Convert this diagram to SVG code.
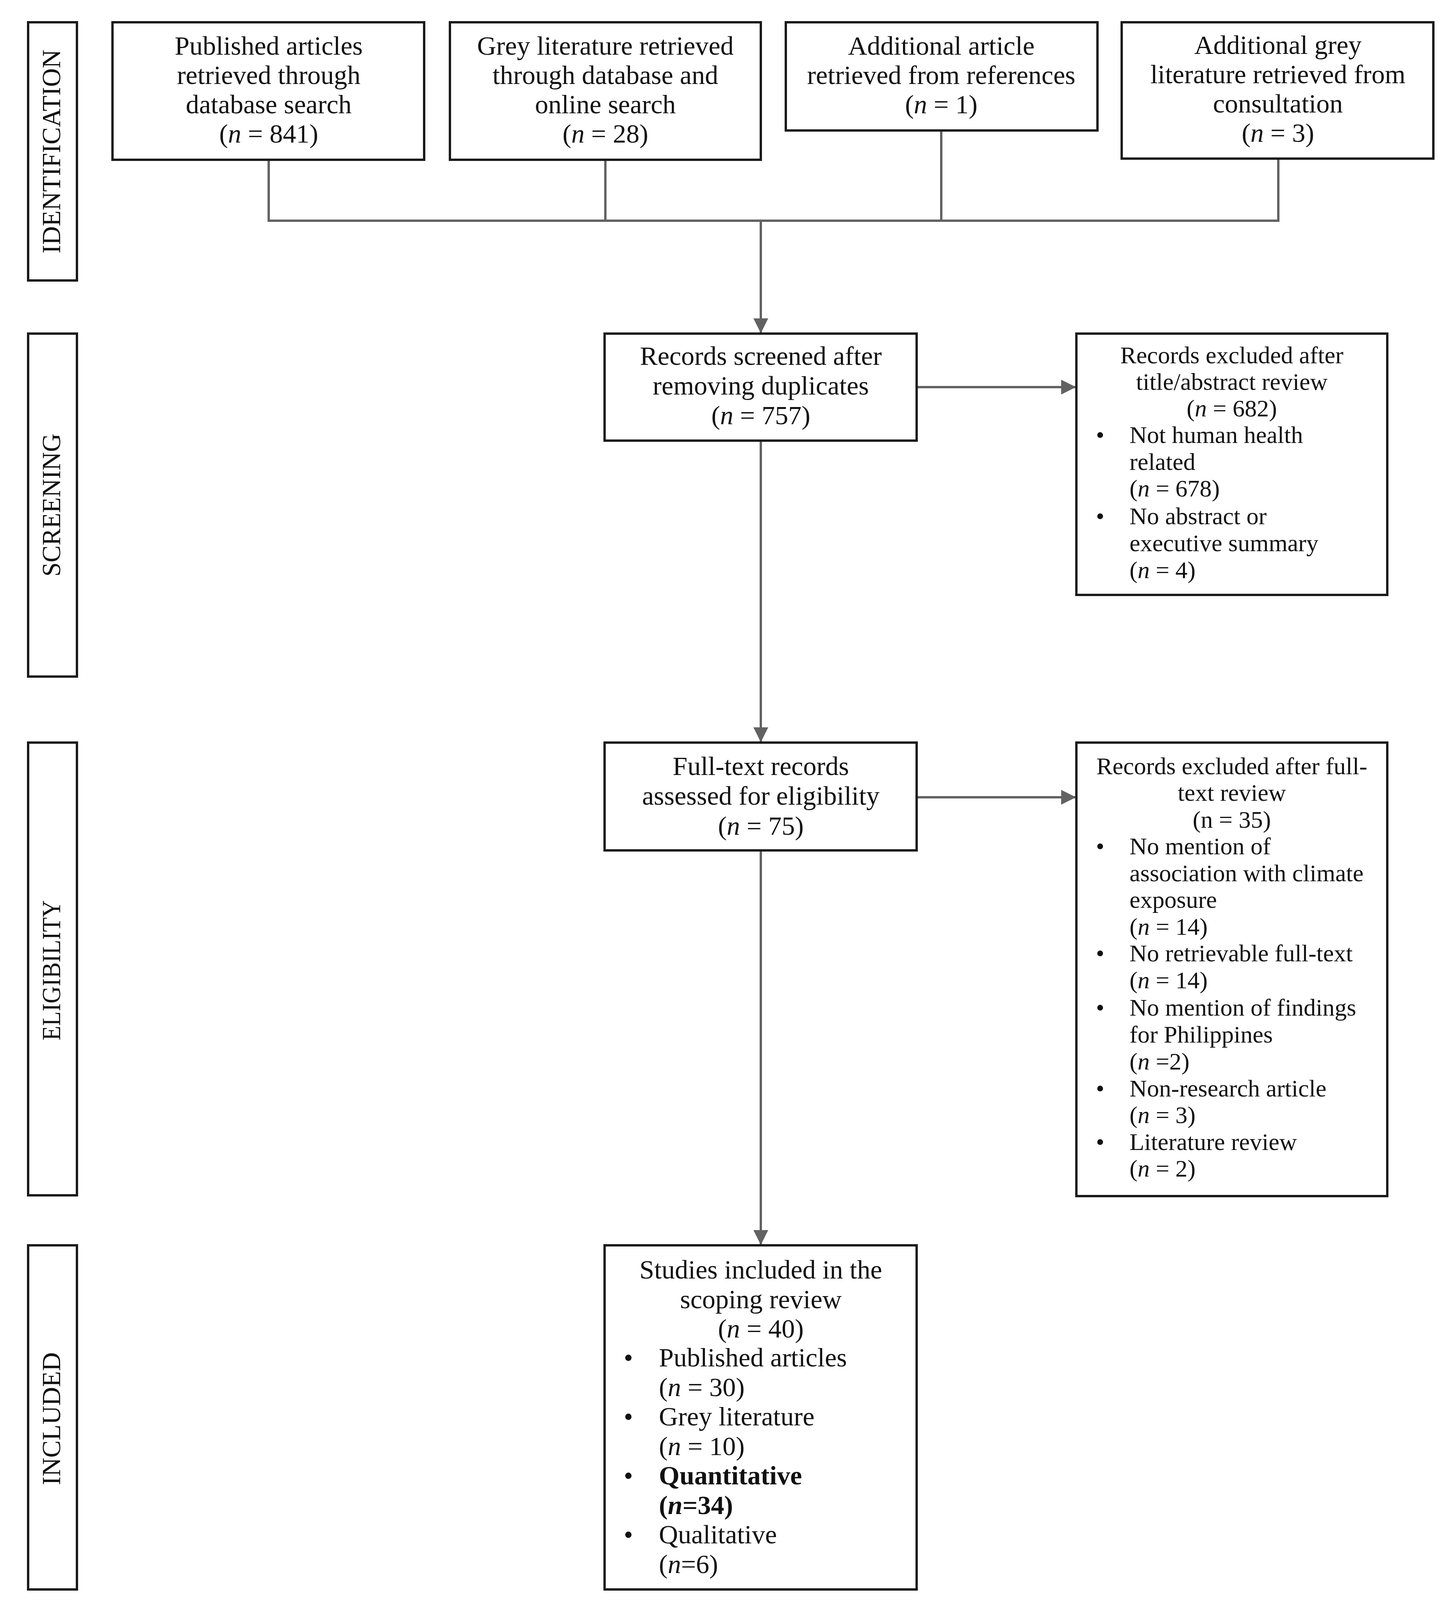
<svg xmlns="http://www.w3.org/2000/svg" width="3728" height="4135" viewBox="0 0 3728 4135">
<style>
.box{fill:#ffffff;stroke:#1a1a1a;stroke-width:6}
.side{fill:#ffffff;stroke:#1a1a1a;stroke-width:6}
.t{font-family:"Liberation Serif","Times New Roman",serif;font-size:68px;fill:#111111}
.s{font-family:"Liberation Serif","Times New Roman",serif;font-size:62px;fill:#111111}
.lab{font-family:"Liberation Serif","Times New Roman",serif;font-size:68px;fill:#111111}
.c{text-anchor:middle}
.i{font-style:italic}
.b{font-weight:bold}
.con{fill:none;stroke:#626262;stroke-width:6}
</style>
<defs>
<marker id="ah" viewBox="0 0 38 38" markerWidth="38" markerHeight="38" refX="36" refY="19" orient="auto" markerUnits="userSpaceOnUse">
<path d="M0,0 L38,19 L0,38 z" fill="#626262"/>
</marker>
</defs>

<g id="connectors">
<polyline class="con" points="688,409 688,565 3273,565 3273,407"/>
<line class="con" x1="1550" y1="409" x2="1550" y2="565"/>
<line class="con" x1="2410" y1="334" x2="2410" y2="565"/>
<line class="con" x1="1948" y1="565" x2="1948" y2="851" marker-end="url(#ah)"/>
<line class="con" x1="2347" y1="991" x2="2753" y2="991" marker-end="url(#ah)"/>
<line class="con" x1="1948" y1="1128" x2="1948" y2="1898" marker-end="url(#ah)"/>
<line class="con" x1="2347" y1="2041" x2="2753" y2="2041" marker-end="url(#ah)"/>
<line class="con" x1="1948" y1="2177" x2="1948" y2="3185" marker-end="url(#ah)"/>
</g>

<g id="label-identification">
<rect class="side" x="72" y="57" width="125" height="661"/>
<text class="lab c" transform="translate(154,388) rotate(-90)" textLength="522" lengthAdjust="spacingAndGlyphs">IDENTIFICATION</text>
</g>
<g id="label-screening">
<rect class="side" x="72" y="854" width="125" height="878"/>
<text class="lab c" transform="translate(154,1293) rotate(-90)" textLength="366" lengthAdjust="spacingAndGlyphs">SCREENING</text>
</g>
<g id="label-eligibility">
<rect class="side" x="72" y="1901" width="125" height="1159"/>
<text class="lab c" transform="translate(154,2484) rotate(-90)" textLength="359" lengthAdjust="spacingAndGlyphs">ELIGIBILITY</text>
</g>
<g id="label-included">
<rect class="side" x="72" y="3188" width="125" height="881"/>
<text class="lab c" transform="translate(154,3632) rotate(-90)" textLength="340" lengthAdjust="spacingAndGlyphs">INCLUDED</text>
</g>

<g id="published">
<rect class="box" x="288" y="57" width="798" height="352"/>
<text class="t c" x="688" y="140">Published articles</text>
<text class="t c" x="688" y="215">retrieved through</text>
<text class="t c" x="688" y="290">database search</text>
<text class="t c" x="688" y="365">(<tspan class="i">n</tspan> = 841)</text>
</g>

<g id="grey">
<rect class="box" x="1152" y="57" width="796" height="352"/>
<text class="t c" x="1550" y="140">Grey literature retrieved</text>
<text class="t c" x="1550" y="215">through database and</text>
<text class="t c" x="1550" y="290">online search</text>
<text class="t c" x="1550" y="365">(<tspan class="i">n</tspan> = 28)</text>
</g>

<g id="additional-article">
<rect class="box" x="2012" y="57" width="798" height="277"/>
<text class="t c" x="2410" y="140">Additional article</text>
<text class="t c" x="2410" y="215">retrieved from references</text>
<text class="t c" x="2410" y="290">(<tspan class="i">n</tspan> = 1)</text>
</g>

<g id="additional-grey">
<rect class="box" x="2872" y="57" width="798" height="349"/>
<text class="t c" x="3272" y="138">Additional grey</text>
<text class="t c" x="3272" y="213">literature retrieved from</text>
<text class="t c" x="3272" y="288">consultation</text>
<text class="t c" x="3272" y="363">(<tspan class="i">n</tspan> = 3)</text>
</g>

<g id="screened">
<rect class="box" x="1548" y="854" width="799" height="274"/>
<text class="t c" x="1948" y="934">Records screened after</text>
<text class="t c" x="1948" y="1010">removing duplicates</text>
<text class="t c" x="1948" y="1086">(<tspan class="i">n</tspan> = 757)</text>
</g>

<g id="excluded-title">
<rect class="box" x="2756" y="854" width="796" height="669"/>
<text class="s c" x="3154" y="930">Records excluded after</text>
<text class="s c" x="3154" y="998">title/abstract review</text>
<text class="s c" x="3154" y="1066">(<tspan class="i">n</tspan> = 682)</text>
<text class="s" x="2806" y="1134">•</text>
<text class="s" x="2892" y="1134">Not human health</text>
<text class="s" x="2892" y="1203">related</text>
<text class="s" x="2892" y="1271">(<tspan class="i">n</tspan> = 678)</text>
<text class="s" x="2806" y="1342">•</text>
<text class="s" x="2892" y="1342">No abstract or</text>
<text class="s" x="2892" y="1411">executive summary</text>
<text class="s" x="2892" y="1480">(<tspan class="i">n</tspan> = 4)</text>
</g>

<g id="fulltext">
<rect class="box" x="1548" y="1901" width="799" height="276"/>
<text class="t c" x="1948" y="1984">Full-text records</text>
<text class="t c" x="1948" y="2060">assessed for eligibility</text>
<text class="t c" x="1948" y="2137">(<tspan class="i">n</tspan> = 75)</text>
</g>

<g id="excluded-fulltext">
<rect class="box" x="2756" y="1901" width="796" height="1161"/>
<text class="s c" x="3154" y="1982">Records excluded after full-</text>
<text class="s c" x="3154" y="2050">text review</text>
<text class="s c" x="3154" y="2119">(n = 35)</text>
<text class="s" x="2806" y="2187">•</text>
<text class="s" x="2892" y="2187">No mention of</text>
<text class="s" x="2892" y="2256">association with climate</text>
<text class="s" x="2892" y="2324">exposure</text>
<text class="s" x="2892" y="2393">(<tspan class="i">n</tspan> = 14)</text>
<text class="s" x="2806" y="2461">•</text>
<text class="s" x="2892" y="2461">No retrievable full-text</text>
<text class="s" x="2892" y="2530">(<tspan class="i">n</tspan> = 14)</text>
<text class="s" x="2806" y="2600">•</text>
<text class="s" x="2892" y="2600">No mention of findings</text>
<text class="s" x="2892" y="2669">for Philippines</text>
<text class="s" x="2892" y="2738">(<tspan class="i">n</tspan> =2)</text>
<text class="s" x="2806" y="2807">•</text>
<text class="s" x="2892" y="2807">Non-research article</text>
<text class="s" x="2892" y="2875">(<tspan class="i">n</tspan> = 3)</text>
<text class="s" x="2806" y="2944">•</text>
<text class="s" x="2892" y="2944">Literature review</text>
<text class="s" x="2892" y="3012">(<tspan class="i">n</tspan> = 2)</text>
</g>

<g id="included">
<rect class="box" x="1548" y="3188" width="799" height="881"/>
<text class="t c" x="1948" y="3273">Studies included in the</text>
<text class="t c" x="1948" y="3349">scoping review</text>
<text class="t c" x="1948" y="3424">(<tspan class="i">n</tspan> = 40)</text>
<text class="t" x="1597" y="3498">•</text>
<text class="t" x="1687" y="3498">Published articles</text>
<text class="t" x="1687" y="3574">(<tspan class="i">n</tspan> = 30)</text>
<text class="t" x="1597" y="3649">•</text>
<text class="t" x="1687" y="3649">Grey literature</text>
<text class="t" x="1687" y="3725">(<tspan class="i">n</tspan> = 10)</text>
<text class="t" x="1597" y="3800">•</text>
<text class="t b" x="1687" y="3800">Quantitative</text>
<text class="t b" x="1687" y="3876">(<tspan class="i">n</tspan>=34)</text>
<text class="t" x="1597" y="3951">•</text>
<text class="t" x="1687" y="3951">Qualitative</text>
<text class="t" x="1687" y="4027">(<tspan class="i">n</tspan>=6)</text>
</g>
</svg>
